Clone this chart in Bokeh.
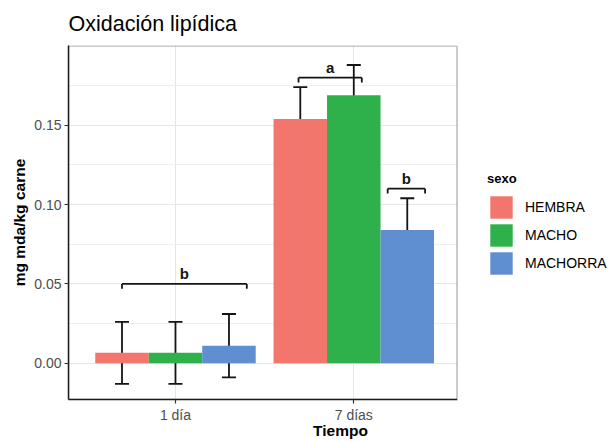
from bokeh.plotting import figure
from bokeh.models import (ColumnDataSource, Range1d, Whisker, TeeHead, BoxAnnotation,
                          Legend, LegendItem, FixedTicker, PrintfTickFormatter)
from bokeh.transform import dodge
from bokeh.embed import file_html
from bokeh.resources import INLINE
from bokeh.core.properties import value

# ---- data ----
tiempos = ["1 día", "7 días"]
sexos = ["HEMBRA", "MACHO", "MACHORRA"]
colores = ["#F3766D", "#2EB14B", "#5F8FD1"]

hembra = [0.0065, 0.154]
macho = [0.0065, 0.169]
machorra = [0.0110, 0.084]
hembra_err = [0.0195, 0.020]
macho_err = [0.0195, 0.019]
machorra_err = [0.0200, 0.020]

bracket_tiempo = ["1 día", "7 días", "7 días"]
bracket_desde = [-0.30, -0.31, 0.19]
bracket_hasta = [0.40, 0.045, 0.40]
bracket_y = [0.050, 0.180, 0.110]
bracket_letra = ["b", "a", "b"]

y_ticks = [0.0, 0.05, 0.10, 0.15]
y_minor = [0.025, 0.075, 0.125, 0.175]

FONT = "Liberation Sans"
INK = "#141414"

# categorical positions along the x scale (one slot per time point)
pos = list(range(len(tiempos)))
X0, X1, PANEL_R = -0.600, 2.451, 1.579   # visible panel spans X0..PANEL_R, rest holds the legend
Y0, Y1 = -0.0229, 0.2003

p = figure(x_range=Range1d(X0, X1), y_range=Range1d(Y0, Y1),
           width=612, height=441, output_backend="svg", toolbar_location=None,
           min_border_left=68, min_border_right=0, min_border_top=42, min_border_bottom=41)

p.title.text = "Oxidación lipídica"
p.title.text_font = FONT
p.title.text_font_size = "21.5px"
p.title.text_font_style = "normal"
p.title.text_color = "#000000"
p.title.standoff = 19

p.background_fill_color = "white"
p.border_fill_color = "white"
p.outline_line_color = None

# grids
p.ygrid.ticker = FixedTicker(ticks=y_ticks, minor_ticks=y_minor)
p.ygrid.grid_line_color = "#E6E6E6"
p.ygrid.grid_line_width = 1
p.ygrid.minor_grid_line_color = "#EFEFEF"
p.ygrid.minor_grid_line_width = 1
p.xgrid.ticker = FixedTicker(ticks=pos)
p.xgrid.grid_line_color = "#E6E6E6"
p.xgrid.grid_line_width = 1

# axes
p.yaxis.ticker = FixedTicker(ticks=y_ticks)
p.yaxis.formatter = PrintfTickFormatter(format="%.2f")
p.xaxis.ticker = FixedTicker(ticks=pos)
p.xaxis.major_label_overrides = {i: t for i, t in zip(pos, tiempos)}
p.xaxis.bounds = (X0, PANEL_R)
for ax in (p.xaxis[0], p.yaxis[0]):
    ax.axis_line_color = "#1a1a1a"
    ax.axis_line_width = 1.5
    ax.major_tick_line_color = "#333333"
    ax.major_tick_line_width = 1.2
    ax.major_tick_out = 4
    ax.major_tick_in = 0
    ax.minor_tick_line_color = None
    ax.major_label_text_font = FONT
    ax.major_label_text_font_size = "14px"
    ax.major_label_text_color = "#4D4D4D"
    ax.axis_label_text_font = FONT
    ax.axis_label_text_font_size = "15.5px"
    ax.axis_label_text_font_style = "bold"
    ax.axis_label_text_color = "#000000"

p.xaxis.axis_label = "Tiempo"
p.xaxis.major_label_standoff = 3
p.xaxis.axis_label_standoff = -4
p.yaxis.axis_label = "mg mda/kg carne"
p.yaxis.major_label_standoff = 3
p.yaxis.axis_label_standoff = 3

# bars and error bars
series = [hembra, macho, machorra]
errs = [hembra_err, macho_err, machorra_err]
offsets = [-0.3, 0.0, 0.3]
items = []
for nombre, vals, err, off, col in zip(sexos, series, errs, offsets, colores):
    src = ColumnDataSource(dict(
        pos=pos, tiempo=tiempos, val=vals,
        upper=[v + e for v, e in zip(vals, err)],
        lower=[v - e for v, e in zip(vals, err)],
    ))
    r = p.vbar(x=dodge("pos", off), top="val", width=0.3,
               source=src, fill_color=col, line_color=None)
    items.append(LegendItem(label=nombre, renderers=[r]))
    w = Whisker(base=dodge("pos", off), upper="upper", lower="lower",
                source=src, dimension="height", line_color=INK, line_width=1.8,
                upper_head=TeeHead(size=14, line_color=INK, line_width=1.8),
                lower_head=TeeHead(size=14, line_color=INK, line_width=1.8))
    p.add_layout(w)

# significance brackets
tick = 0.003
for t, a, b, y, letra in zip(bracket_tiempo, bracket_desde, bracket_hasta, bracket_y, bracket_letra):
    c = pos[tiempos.index(t)]
    bsrc = ColumnDataSource(dict(pos=[c], y=[y], ylo=[y - tick], letra=[letra]))
    xa = dodge("pos", a)
    xb = dodge("pos", b)
    kw = dict(source=bsrc, line_color=INK, line_width=1.8)
    p.segment(x0=xa, y0="y", x1=xb, y1="y", **kw)
    p.segment(x0=xa, y0="y", x1=xa, y1="ylo", **kw)
    p.segment(x0=xb, y0="y", x1=xb, y1="ylo", **kw)
    p.text(x=dodge("pos", (a + b) / 2), y="y", text="letra", source=bsrc,
           text_align="center", text_baseline="bottom", y_offset=-2,
           text_font=value(FONT), text_font_size="15px",
           text_font_style="bold", text_color=INK)

# white area right of the panel (holds the legend)
p.add_layout(BoxAnnotation(left=PANEL_R, right=X1 + 1, bottom=Y0 - 1, top=Y1 + 1,
                           fill_color="white", fill_alpha=1, line_color=None))

legend = Legend(items=items, title="sexo", location=(419, 122),
                title_text_font=FONT, title_text_font_size="13px", title_text_font_style="bold",
                title_text_color="#000000", title_standoff=7,
                label_text_font=FONT, label_text_font_size="14px", label_text_color="#000000",
                label_standoff=10, glyph_width=28, glyph_height=28, label_height=28,
                spacing=0, padding=0, margin=0,
                border_line_color=None, background_fill_alpha=0)
p.add_layout(legend, "center")

# panel border
p.add_layout(BoxAnnotation(left=X0, right=PANEL_R, bottom=Y0, top=0.2,
                           fill_alpha=0, line_color="#1a1a1a", line_width=1.5))

open("out.html", "w").write(file_html(p, INLINE))
